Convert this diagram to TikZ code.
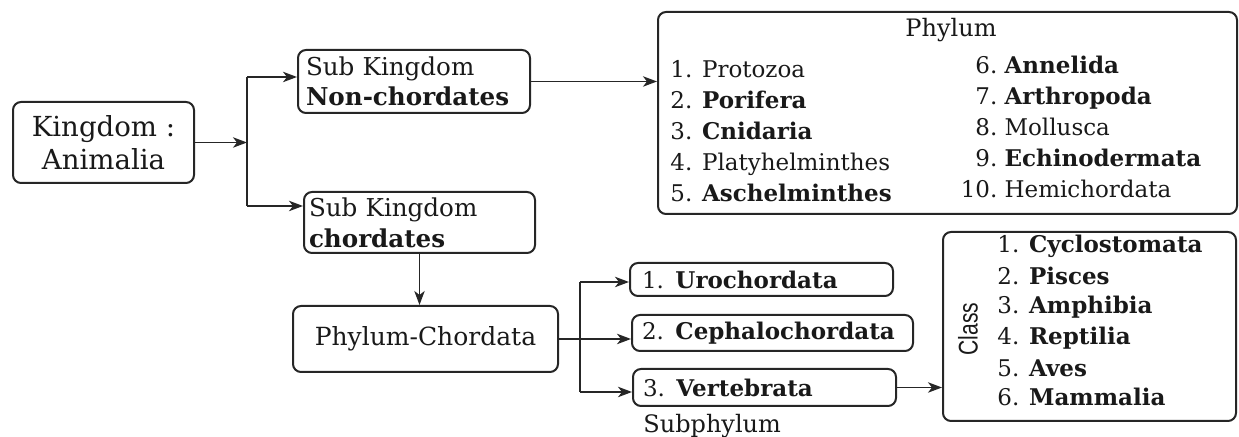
\documentclass[tikz,border=0pt]{standalone}
\usepackage{fontspec}
\setmainfont{DejaVu Serif}
\newfontfamily\classfont{Liberation Sans}
\usetikzlibrary{arrows.meta}
\newcommand{\pnum}[1]{\makebox[17pt][r]{#1}\hspace{3.6pt}}
\begin{document}
\begin{tikzpicture}[x=0.5pt,y=-0.5pt,
  box/.style={draw=black!85, line width=1pt, rounded corners=4pt, inner sep=0pt, text=black!90},
  arr/.style={-{Stealth[length=7pt,width=5.2pt,inset=2pt]}, line width=0.9pt, draw=black!85},
  ln/.style={line width=0.9pt, draw=black!85},
  itm/.style={anchor=base west, inner sep=0pt, text=black!90, font=\fontsize{11.5}{14}\selectfont},
]
\useasboundingbox (0,0) rectangle (1239,437);

% Kingdom
\node[box, minimum width=90.5pt, minimum height=40.5pt, align=center,
  font=\fontsize{13.8}{16.5}\selectfont] (K) at (103.5,142.5) {Kingdom :\\Animalia};

% Sub kingdom boxes
\node[box, minimum width=116pt, minimum height=31.5pt, inner xsep=4pt, text width=108pt, align=left,
  font=\fontsize{12.3}{15}\selectfont] (NC) at (414,81.5) {Sub Kingdom\\\textbf{Non-chordates}};
\node[box, minimum width=115.5pt, minimum height=30.5pt, inner xsep=2.5pt, text width=110.5pt, align=left,
  font=\fontsize{12.3}{15.5}\selectfont] (CH) at (419.5,222.5) {Sub Kingdom\\\textbf{chordates}};

% Phylum-Chordata
\node[box, minimum width=132.5pt, minimum height=33pt,
  font=\fontsize{12.5}{15}\selectfont] (PC) at (425.5,339) {Phylum-Chordata};

% Phylum box
\node[box, minimum width=289.5pt, minimum height=101pt] (P) at (947.5,113) {};
\node[itm, anchor=base, font=\fontsize{12}{14}\selectfont] (Pt) at (951,37) {Phylum};
\node[itm] (p1) at (670,78) {1. Protozoa};
\node[itm] (p2) at (670,109) {2. \textbf{Porifera}};
\node[itm] (p3) at (670,140) {3. \textbf{Cnidaria}};
\node[itm] (p4) at (670,171) {4. Platyhelminthes};
\node[itm] (p5) at (670,202) {5. \textbf{Aschelminthes}};
\node[itm] (p6) at (963,74) {\pnum{6.}\textbf{Annelida}};
\node[itm] (p7) at (963,105) {\pnum{7.}\textbf{Arthropoda}};
\node[itm] (p8) at (963,136) {\pnum{8.}Mollusca};
\node[itm] (p9) at (963,167) {\pnum{9.}\textbf{Echinodermata}};
\node[itm] (p10) at (963,198) {\pnum{10.}Hemichordata};

% Subphylum boxes
\node[box, minimum width=131.5pt, minimum height=16.5pt, inner xsep=6pt, text width=119.5pt, align=left,
  font=\fontsize{11.5}{14}\selectfont] (U) at (761.5,279.5) {1. \textbf{Urochordata}};
\node[box, minimum width=140.5pt, minimum height=18pt, inner xsep=5pt, text width=130.5pt, align=left,
  font=\fontsize{11.5}{14}\selectfont] (Ce) at (772.5,333) {2. \textbf{Cephalochordata}};
\node[box, minimum width=131.5pt, minimum height=18.5pt, inner xsep=5pt, text width=121.5pt, align=left,
  font=\fontsize{11.5}{14}\selectfont] (V) at (764.5,387.5) {3. \textbf{Vertebrata}};
\node[itm, font=\fontsize{12}{14}\selectfont] (SP) at (643,433) {Subphylum};

% Class box
\node[box, minimum width=146.5pt, minimum height=94.5pt] (C) at (1089.5,326.5) {};
\node[inner sep=0pt, rotate=90, text=black!90, font=\classfont\fontsize{13.5}{15}\selectfont] (Cl) at (968,329) {\scalebox{0.78}[1]{Class}};
\node[itm] (c1) at (997,253) {1. \textbf{Cyclostomata}};
\node[itm] (c2) at (997,285) {2. \textbf{Pisces}};
\node[itm] (c3) at (997,314) {3. \textbf{Amphibia}};
\node[itm] (c4) at (997,345) {4. \textbf{Reptilia}};
\node[itm] (c5) at (997,377) {5. \textbf{Aves}};
\node[itm] (c6) at (997,406) {6. \textbf{Mammalia}};

% connectors
\coordinate (j1) at (247,142.5);
\coordinate (jt) at (247,77);
\coordinate (jb) at (247,206);
\draw[arr] (K.east) -- (j1);
\draw[ln] (jt) -- (jb);
\draw[arr] (jt) -- (jt -| NC.west);
\draw[arr] (jb) -- (jb -| CH.west);
\draw[arr] (NC.east) -- (NC.east -| P.west);
\draw[arr] (CH.south) -- (CH.south |- PC.north);
\coordinate (kt) at (580,282);
\coordinate (kb) at (580,392);
\draw[arr] (PC.east) -- (PC.east -| Ce.west);
\draw[ln] (kt) -- (kb);
\draw[arr] (kt) -- (kt -| U.west);
\draw[arr] (kb) -- (kb -| V.west);
\draw[arr] (V.east) -- (V.east -| C.west);
\end{tikzpicture}
\end{document}
